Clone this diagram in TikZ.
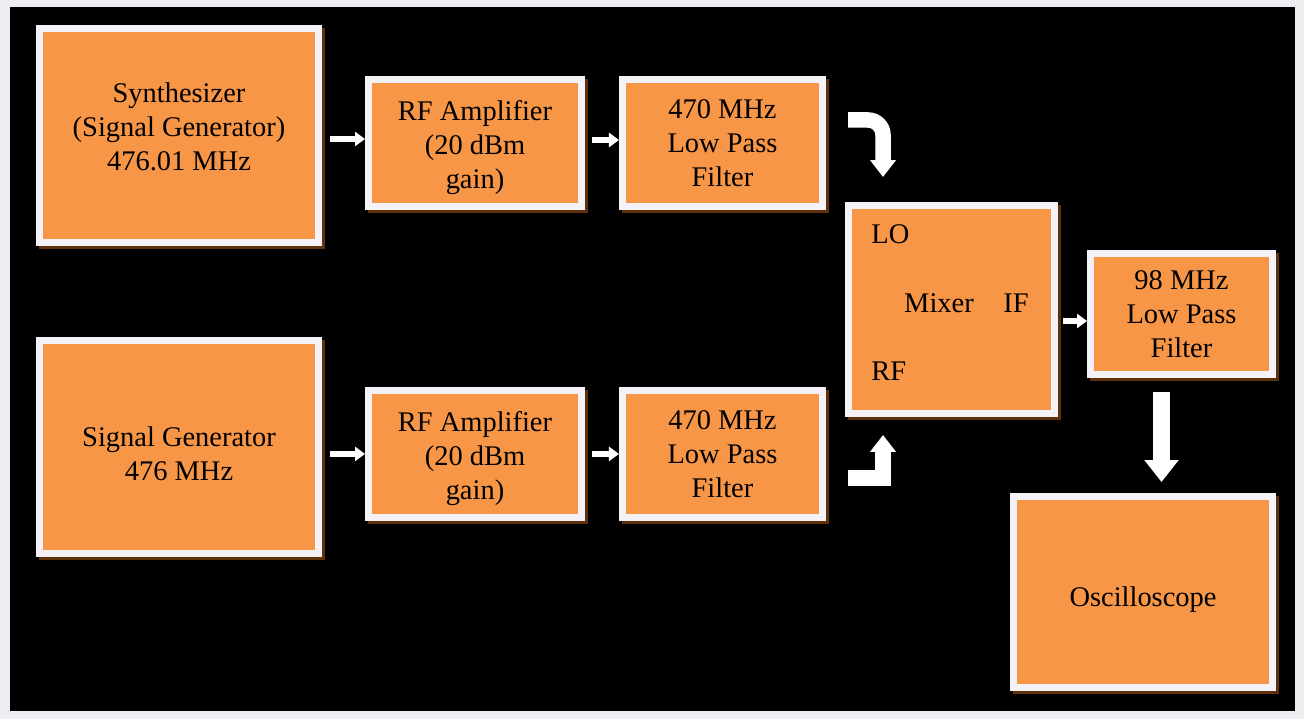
\documentclass[tikz,border=0pt]{standalone}
\usepackage{fontspec}
\setmainfont{Liberation Serif}
\usepackage{xcolor}
\usepackage{tikz}
\usetikzlibrary{arrows.meta, positioning, calc, shadows}
\definecolor{boxorange}{RGB}{247,150,70}
\definecolor{boxrim}{RGB}{245,242,247}
\definecolor{rimshadow}{RGB}{95,48,12}
\definecolor{pagegray}{RGB}{238,238,242}
\tikzset{
  block/.style={
    rectangle,
    draw=boxrim,
    line width=0.14cm,
    fill=boxorange,
    text=black,
    align=center,
    inner sep=2pt,
    font=\fontsize{16.2}{19.4}\selectfont,
    general shadow={draw=rimshadow, fill=rimshadow, line width=0.14cm,
      shadow xshift=0.06cm, shadow yshift=-0.06cm}
  },
  portlabel/.style={
    inner sep=0pt,
    anchor=west,
    font=\fontsize{16.2}{19.4}\selectfont
  },
  smallarrow/.style={
    draw=white,
    line width=0.11cm,
    -{Triangle[width=0.28cm, length=0.2cm]}
  },
  bendarrow/.style={
    draw=white,
    line width=0.31cm,
    -{Triangle[width=0.5cm, length=0.34cm]}
  },
  bigarrow/.style={
    draw=white,
    line width=0.34cm,
    -{Triangle[width=0.66cm, length=0.44cm]}
  }
}

\begin{document}
\begin{tikzpicture}[x=0.02cm, y=-0.02cm]

  % Frame
  \fill[pagegray] (0,0) rectangle (1304,719);
  \fill[black] (10,7) rectangle (1295,711);
  \useasboundingbox (0,0) rectangle (1304,719);

  % Sources
  \node (SG1) [block, minimum width=5.58cm, minimum height=4.28cm] at (179,135.5) {Synthesizer\\(Signal Generator)\\476.01 MHz\\[-9.2pt]\mbox{}};
  \node (SG2) [block, minimum width=5.58cm, minimum height=4.26cm, below=1.82cm of SG1] {\mbox{}\\[-0.3pt]Signal Generator\\476 MHz};

  % Amplifiers and filters
  \node (A1) [block, minimum width=4.26cm, minimum height=2.54cm] at (475,143) {\mbox{}\\[-2.7pt]RF Amplifier\\(20 dBm\\gain)};
  \node (F1) [block, minimum width=4cm, minimum height=2.54cm, right=0.68cm of A1] {470 MHz\\Low Pass\\Filter};
  \node (A2) [block, minimum width=4.26cm, minimum height=2.54cm, below=3.54cm of A1] {\mbox{}\\[-2.7pt]RF Amplifier\\(20 dBm\\gain)};
  \node (F2) [block, minimum width=4cm, minimum height=2.54cm, right=0.68cm of A2] {470 MHz\\Low Pass\\Filter};

  % Mixer
  \node (MX) [block, minimum width=4.12cm, minimum height=4.16cm] at (951.5,309.5) {};
  \node (LO) [portlabel] at ([shift={(0.52cm,-0.64cm)}]MX.north west) {LO};
  \node (RF) [portlabel] at ([shift={(0.52cm,0.92cm)}]MX.south west) {RF};
  \node (MXL) [portlabel, anchor=center] at ([shift={(-0.25cm,0.13cm)}]MX.center) {Mixer};
  \node (IF) [portlabel, anchor=center] at ([shift={(1.29cm,0.13cm)}]MX.center) {IF};

  % Output side
  \node (F3) [block, minimum width=3.64cm, minimum height=2.42cm] at (1181.5,314) {98 MHz\\Low Pass\\Filter};
  \node (OS) [block, minimum width=5.18cm, minimum height=3.82cm] at (1143,592) {\mbox{}\\[0.7pt]Oscilloscope};

  % Arrows
  \coordinate (LOin) at (848,120);
  \coordinate (RFin) at (848,478);
  \draw[smallarrow] ([shift={(0.16cm,0.08cm)}]SG1.east |- A1.west) -- ([yshift=0.08cm]A1.west);
  \draw[smallarrow] ([shift={(0.14cm,0.06cm)}]A1.east) -- ([yshift=0.06cm]F1.west);
  \draw[smallarrow] ([xshift=0.16cm]SG2.east |- A2.west) -- (A2.west);
  \draw[smallarrow] ([xshift=0.14cm]A2.east) -- (F2.west);
  \draw[bendarrow, rounded corners=0.3cm] (LOin) -| ([shift={(0.76cm,0.5cm)}]MX.north west);
  \draw[bendarrow, line join=miter] (RFin) -| ([shift={(0.76cm,-0.36cm)}]MX.south west);
  \draw[smallarrow] ($(MX.east |- F3.west)+(0.1cm,-0.14cm)$) -- ([yshift=-0.14cm]F3.west);
  \draw[bigarrow] ($(F3.south)+(-0.4cm,-0.28cm)$) -- ($(F3.south |- OS.north)+(-0.4cm,0.22cm)$);

\end{tikzpicture}
\end{document}
